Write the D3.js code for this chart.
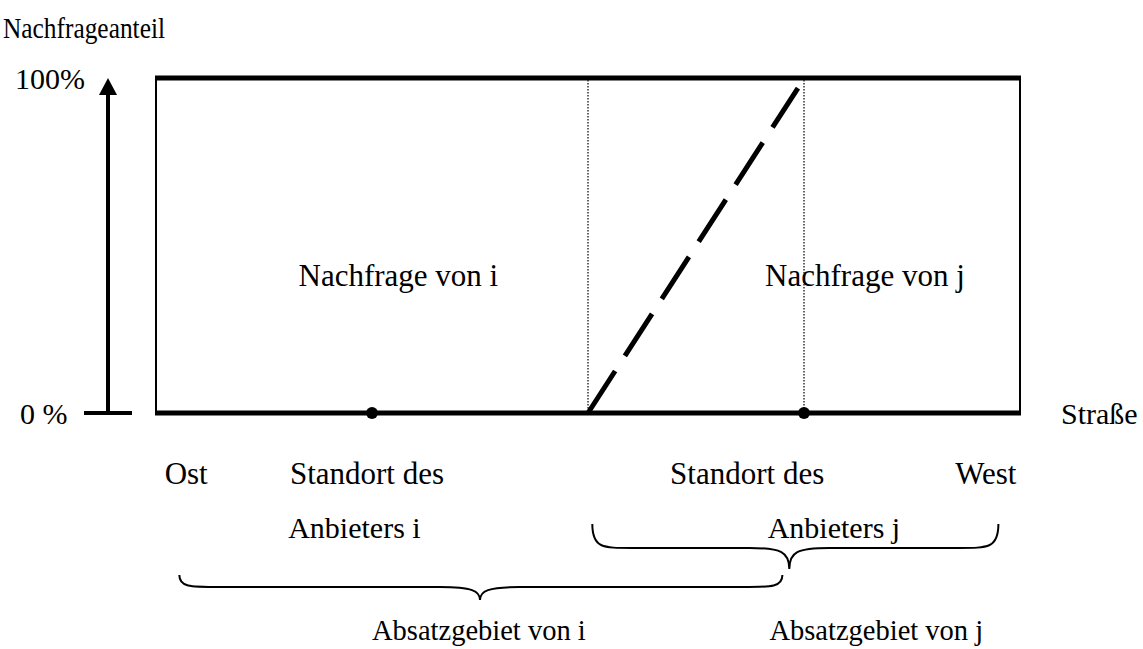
<!DOCTYPE html>
<html>
<head>
<meta charset="utf-8">
<script src="https://cdn.jsdelivr.net/npm/d3@7"></script>
<style>
  body { margin: 0; background: #fff; }
  svg text { font-family: "Liberation Serif", "Times New Roman", serif; fill: #000; }
</style>
</head>
<body>
<svg id="chart" width="1143" height="649"></svg>
<script>
// road position in percent (Ost = 0, West = 100), demand share in percent
const roadExtent = [0, 100];
const shareLevels = [0, 100];
const shareLabels = ["0 %", "100%"];
const supplierSites = [25, 75];
const areaBorders = [50, 75];
const transition = [[50, 0], [74.3, 97]];
const roadLabels = ["Ost", "Standort des", "Standort des", "West"];
const roadLabelPos = [1, 15.5, 59.5, 92.5];
const supplierLabels = ["Anbieters i", "Anbieters j"];
const supplierLabelPos = [15.3, 70.8];
const demandLabels = ["Nachfrage von i", "Nachfrage von j"];
const demandLabelPos = [16.5, 70.5];
const areaLabels = ["Absatzgebiet von i", "Absatzgebiet von j"];
const areaLabelPos = [25, 71];
const braceFrom = [2.7, 50.5];
const braceTo = [72.5, 97.5];
const braceTip = [37.5, 73.3];

const svg = d3.select("#chart");

const x = d3.scaleLinear().domain(roadExtent).range([156, 1020]);
const y = d3.scaleLinear().domain(shareLevels).range([413, 78]);

// box: thin sides, thick top/bottom
svg.selectAll(".side")
    .data(roadExtent)
    .enter().append("line")
    .attr("x1", d => x(d)).attr("x2", d => x(d))
    .attr("y1", y(100)).attr("y2", y(0))
    .attr("stroke", "#000").attr("stroke-width", 2);

svg.selectAll(".edge")
    .data(shareLevels)
    .enter().append("line")
    .attr("x1", x(0) - 1).attr("x2", x(100) + 1)
    .attr("y1", d => y(d)).attr("y2", d => y(d))
    .attr("stroke", "#000").attr("stroke-width", 5);

// dotted borders of the market areas
svg.selectAll(".border")
    .data(areaBorders)
    .enter().append("line")
    .attr("x1", d => x(d)).attr("x2", d => x(d))
    .attr("y1", y(100) + 2).attr("y2", y(0))
    .attr("stroke", "#111").attr("stroke-width", 1.3)
    .attr("stroke-dasharray", "1.5,1.5");

// dashed transition
svg.append("line")
    .attr("x1", x(transition[0][0])).attr("y1", y(transition[0][1]))
    .attr("x2", x(transition[1][0])).attr("y2", y(transition[1][1]))
    .attr("stroke", "#000").attr("stroke-width", 5)
    .attr("stroke-dasharray", "50,18");

// supplier sites
svg.selectAll(".site")
    .data(supplierSites)
    .enter().append("circle")
    .attr("cx", d => x(d)).attr("cy", y(0))
    .attr("r", 6).attr("fill", "#000");

// share axis with arrow
const ax = 108;
svg.append("line")
    .attr("x1", ax).attr("x2", ax)
    .attr("y1", y(0)).attr("y2", y(100) + 14)
    .attr("stroke", "#000").attr("stroke-width", 4);
svg.append("path")
    .attr("d", d3.line()([[ax, y(100)], [ax - 9, y(100) + 17], [ax + 9, y(100) + 17]]) + "Z")
    .attr("fill", "#000");
svg.append("line")
    .attr("x1", 84).attr("x2", 132)
    .attr("y1", y(0)).attr("y2", y(0))
    .attr("stroke", "#000").attr("stroke-width", 4);

svg.selectAll(".shareLabel")
    .data(shareLabels)
    .enter().append("text")
    .attr("x", (d, i) => i ? 15 : 20)
    .attr("y", (d, i) => y(shareLevels[i]) + 11)
    .attr("font-size", 30)
    .text(d => d);

svg.append("text").attr("x", 3).attr("y", 38).attr("font-size", 29)
    .attr("textLength", 162).attr("lengthAdjust", "spacingAndGlyphs")
    .text("Nachfrageanteil");
svg.append("text").attr("x", 1061).attr("y", y(0) + 11).attr("font-size", 30).text("Straße");

svg.selectAll(".demand")
    .data(demandLabels)
    .enter().append("text")
    .attr("x", (d, i) => x(demandLabelPos[i]))
    .attr("y", 286)
    .attr("font-size", 31)
    .text(d => d);

svg.selectAll(".road")
    .data(roadLabels)
    .enter().append("text")
    .attr("x", (d, i) => x(roadLabelPos[i]))
    .attr("y", 484)
    .attr("font-size", 31)
    .text(d => d);

svg.selectAll(".supplier")
    .data(supplierLabels)
    .enter().append("text")
    .attr("x", (d, i) => x(supplierLabelPos[i]))
    .attr("y", 538)
    .attr("font-size", 30)
    .text(d => d);

svg.selectAll(".area")
    .data(areaLabels)
    .enter().append("text")
    .attr("x", (d, i) => x(areaLabelPos[i]))
    .attr("y", 640)
    .attr("font-size", 28.5)
    .text(d => d);

// curly braces pointing down
function brace(x1, x2, xm, y0, y1, y2) {
    const p = d3.path();
    p.moveTo(x1, y0);
    p.bezierCurveTo(x1, y1, x1 + 10, y1, x1 + 40, y1);
    p.lineTo(xm - 40, y1);
    p.bezierCurveTo(xm - 8, y1, xm, y1 + 4, xm, y2);
    p.bezierCurveTo(xm, y1 + 4, xm + 8, y1, xm + 40, y1);
    p.lineTo(x2 - 40, y1);
    p.bezierCurveTo(x2 - 10, y1, x2, y1, x2, y0);
    return p.toString();
}
const braceY = [[575, 587, 600], [524, 548, 569]];
svg.selectAll(".brace")
    .data(braceFrom)
    .enter().append("path")
    .attr("d", (d, i) => brace(x(d), x(braceTo[i]), x(braceTip[i]), braceY[i][0], braceY[i][1], braceY[i][2]))
    .attr("fill", "none").attr("stroke", "#000").attr("stroke-width", 2);
</script>
</body>
</html>
